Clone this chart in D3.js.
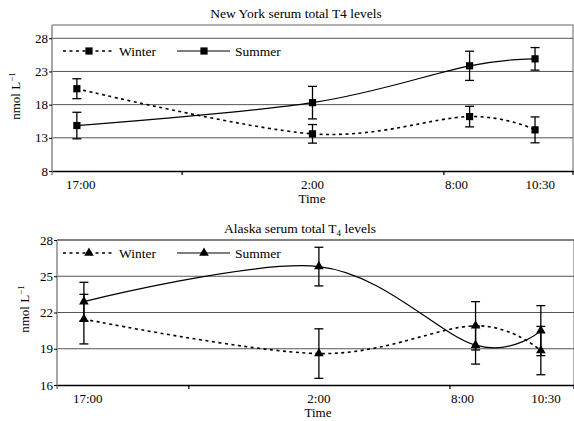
<!DOCTYPE html>
<html>
<head>
<meta charset="utf-8">
<script src="https://cdn.jsdelivr.net/npm/d3@7"></script>
<style>
  body { margin: 0; background: #fff; }
  svg text { font-family: "Liberation Serif", "Times New Roman", serif !important; fill: #000; }
</style>
</head>
<body>
<svg id="chart" width="574" height="421"></svg>
<script>
// Sampling times, in hours after 17:00
var hours = [0, 9, 15, 17.5];
var timeLabels = ["17:00", "2:00", "8:00", "10:30"];
var labelHours = [0.15, 9, 14.5, 17.7];
var tickHours = [4, 14];

// New York
var nyWinter = [20.4, 13.6, 16.2, 14.2];
var nyWinterErr = [1.5, 1.4, 1.55, 1.95];
var nySummer = [14.85, 18.3, 23.85, 24.9];
var nySummerErr = [2.0, 2.45, 2.2, 1.7];
var nyTicks = [8, 13, 18, 23, 28];

// Alaska
var akWinter = [21.45, 18.6, 20.9, 18.85];
var akWinterErr = [2.05, 2.05, 2.0, 2.0];
var akSummer = [22.9, 25.8, 19.3, 20.5];
var akSummerErr = [1.6, 1.6, 1.57, 2.07];
var akTicks = [16, 19, 22, 25, 28];

var svg = d3.select("#chart");

function series(vals, errs) {
    return hours.map(function(h, i) { return { h: h, v: vals[i], e: errs[i] }; });
}

function drawPanel(cfg) {
    var x = d3.scaleLinear().domain(cfg.xDomain).range([cfg.left, cfg.right]);
    var y = d3.scaleLinear().domain(cfg.yDomain).range([cfg.bottom, cfg.top]);
    var g = svg.append("g");

    // title
    g.append("text")
        .attr("x", cfg.titleX).attr("y", cfg.top - 7)
        .attr("text-anchor", "middle")
        .style("font-size", "13.5px")
        .call(cfg.title);

    // plot frame (top and right)
    g.append("path")
        .attr("d", "M" + cfg.left + "," + cfg.top + "H" + cfg.right + "V" + cfg.bottom)
        .attr("fill", "none").attr("stroke", "#999").attr("stroke-width", 1.5);

    // gridlines
    g.selectAll("line.grid")
        .data(cfg.ticks.slice(1))
      .enter()
        .append("line")
        .attr("x1", cfg.left).attr("x2", cfg.right)
        .attr("y1", function(d) { return y(d); })
        .attr("y2", function(d) { return y(d); })
        .attr("stroke", "#555").attr("stroke-width", 1);

    // y axis
    var ya = g.append("g")
        .attr("transform", "translate(" + cfg.left + ",0)")
        .call(d3.axisLeft(y).tickValues(cfg.ticks).tickSize(3).tickPadding(1).tickSizeOuter(0));
    ya.attr("font-family", null).attr("font-size", null);
    ya.select(".domain").attr("stroke", "#888").attr("stroke-width", 1.5)
        .attr("d", "M0," + cfg.top + "V" + (cfg.bottom + 4));
    ya.selectAll("text").style("font-size", "13px");

    // x axis
    var xa = g.append("g")
        .attr("transform", "translate(0," + cfg.bottom + ")")
        .call(d3.axisBottom(x).tickValues(tickHours).tickSize(4).tickFormat("").tickSizeOuter(0));
    xa.select(".domain").attr("stroke", "#000").attr("stroke-width", 1.3);
    xa.selectAll(".tick line").attr("stroke-width", 1.2);
    g.append("line")
        .attr("x1", cfg.right).attr("x2", cfg.right)
        .attr("y1", cfg.bottom).attr("y2", cfg.bottom + 4)
        .attr("stroke", "#000").attr("stroke-width", 1.2);

    g.selectAll("text.tl")
        .data(labelHours)
      .enter()
        .append("text")
        .attr("class", "tl")
        .attr("x", function(d) { return x(d); })
        .attr("y", cfg.bottom + 18)
        .attr("text-anchor", "middle")
        .style("font-size", "13px")
        .text(function(d, i) { return timeLabels[i]; });

    g.append("text")
        .attr("x", cfg.timeX).attr("y", cfg.bottom + 32)
        .attr("text-anchor", "middle")
        .style("font-size", "13px")
        .text("Time");

    // y label
    var yl = g.append("text")
        .attr("transform", "translate(" + cfg.ylabelX + "," + cfg.ylabelY + ") rotate(-90)")
        .attr("text-anchor", "middle")
        .style("font-size", "13px");
    yl.append("tspan").text("nmol L");
    yl.append("tspan").attr("dy", -5).style("font-size", "9px").text("\u22121");

    var line = d3.line()
        .x(function(d) { return x(d.h); })
        .y(function(d) { return y(d.v); })
        .curve(d3.curveCardinal);

    var sets = [
        { data: series(cfg.winter, cfg.winterErr), dash: "3,3.5", width: 1.6 },
        { data: series(cfg.summer, cfg.summerErr), dash: null, width: 1.2 }
    ];

    sets.forEach(function(s) {
        g.append("path")
            .attr("d", line(s.data))
            .attr("fill", "none").attr("stroke", "#000")
            .attr("stroke-width", s.width)
            .attr("stroke-dasharray", s.dash);
    });

    sets.forEach(function(s) {
        var eb = g.selectAll(null).data(s.data).enter().append("g");
        eb.append("line")
            .attr("x1", function(d) { return x(d.h); })
            .attr("x2", function(d) { return x(d.h); })
            .attr("y1", function(d) { return y(d.v - d.e); })
            .attr("y2", function(d) { return y(d.v + d.e); });
        [-1, 1].forEach(function(sign) {
            eb.append("line")
                .attr("x1", function(d) { return x(d.h) - 4.5; })
                .attr("x2", function(d) { return x(d.h) + 4.5; })
                .attr("y1", function(d) { return y(d.v + sign * d.e); })
                .attr("y2", function(d) { return y(d.v + sign * d.e); });
        });
        eb.selectAll("line").attr("stroke", "#000").attr("stroke-width", 1.3);
    });

    var sym = d3.symbol().type(cfg.symbol).size(cfg.symbolSize);
    sets.forEach(function(s) {
        g.selectAll(null).data(s.data).enter()
            .append("path")
            .attr("d", sym)
            .attr("transform", function(d) { return "translate(" + x(d.h) + "," + y(d.v) + ")"; })
            .attr("fill", "#000");
    });

    // legend
    var ly = cfg.top + cfg.legendDy;
    var leg = [
        { name: "Winter", x1: 63, x2: 114, mx: 89, dash: "3,3.5", width: 1.6 },
        { name: "Summer", x1: 177, x2: 230, mx: 204, dash: null, width: 1.2 }
    ];
    leg.forEach(function(l) {
        g.append("line")
            .attr("x1", l.x1).attr("x2", l.x2).attr("y1", ly).attr("y2", ly)
            .attr("stroke", "#000").attr("stroke-width", l.width)
            .attr("stroke-dasharray", l.dash);
        g.append("path").attr("d", sym)
            .attr("transform", "translate(" + l.mx + "," + ly + ")");
        g.append("text")
            .attr("x", l.x2 + 5).attr("y", ly + 4.5)
            .style("font-size", "13.5px")
            .text(l.name);
    });
}

drawPanel({
    left: 52, right: 573, top: 25, bottom: 171,
    xDomain: [-0.95, 18.95], yDomain: [8, 30], ticks: nyTicks,
    winter: nyWinter, winterErr: nyWinterErr,
    summer: nySummer, summerErr: nySummerErr,
    symbol: d3.symbolSquare, symbolSize: 52,
    titleX: 296, timeX: 312, ylabelX: 20, ylabelY: 96, legendDy: 26,
    title: function(t) { t.text("New York serum total T4 levels"); }
});

drawPanel({
    left: 57, right: 574, top: 240, bottom: 385,
    xDomain: [-1.03, 18.77], yDomain: [16, 28], ticks: akTicks,
    winter: akWinter, winterErr: akWinterErr,
    summer: akSummer, summerErr: akSummerErr,
    symbol: d3.symbolTriangle, symbolSize: 40,
    titleX: 300, timeX: 318, ylabelX: 29, ylabelY: 309, legendDy: 13,
    title: function(t) {
        t.append("tspan").text("Alaska serum total T");
        t.append("tspan").attr("dy", 3).style("font-size", "9px").text("4");
        t.append("tspan").attr("dy", -3).text(" levels");
    }
});
</script>
</body>
</html>
